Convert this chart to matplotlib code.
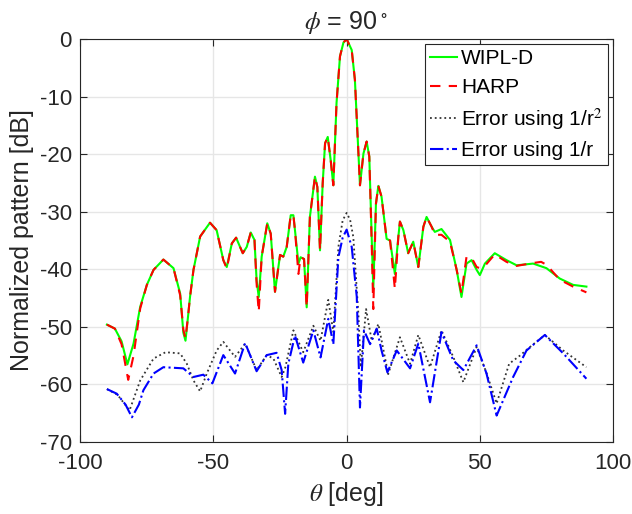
import matplotlib
matplotlib.use('Agg')
from matplotlib import pyplot as plt

plt.rcParams['font.family'] = ['Liberation Sans', 'DejaVu Sans']
plt.rcParams['mathtext.fontset'] = 'stix'
plt.rcParams['axes.unicode_minus'] = False

# WIPL-D reference pattern
theta_wipl = [-90, -87, -84.5, -82.3, -80, -77.5, -75, -72.5, -68.8, -65, -62.5, -61.3,
              -60.5, -59.5, -58.8, -57.5, -55, -51.3, -48.8, -46.3, -45, -43.1, -41.5,
              -39, -37.5, -36, -34.6, -33.8, -33, -31.9, -29.8, -28.5, -26.9, -25, -23.8,
              -22.5, -21, -20, -19.4, -18.1, -17.3, -16, -15, -13.8, -11.9, -11, -10, -9,
              -8.1, -7.1, -6, -5, -3.8, -2.5, -1.2, 0, 1.9, 3.1, 4, 5, 6.3, 7.5, 8.5, 9.4,
              10, 11, 11.9, 13.1, 15, 16.3, 18.1, 19.4, 20, 21.3, 23.1, 25, 26.9, 28.8,
              30, 31.9, 33.1, 35.6, 38.8, 41.3, 43.1, 45, 46.9, 48.8, 50, 51.9, 55.6, 60,
              63.8, 70, 75, 80, 85, 90]
wipl = [-49.6, -50.3, -52.5, -56.5, -52.9, -46.5, -42.7, -40.1, -38.3, -39.8, -44.2, -51.0,
        -52.4, -48, -44.8, -40.1, -34.3, -31.9, -33.2, -38.4, -39.6, -35.5, -34.5,
        -37.2, -36.1, -33.6, -34.9, -41.9, -44.8, -37.8, -32.0, -33.8, -43.9, -37.5, -37.8,
        -36.1, -30.6, -30.6, -33.2, -39.0, -37.9, -38.2, -46.6, -30.9, -23.9, -25.7, -36.7, -25.1,
        -18.1, -17.0, -21.0, -25.4, -11.1, -3.0, -0.6, 0, -1.9, -7.1, -15.8, -25.4, -19.9, -17.8, -20.4, -34.4,
        -43.4, -28.6, -25.5, -27.4, -34.7, -35.0, -40.8, -34.4, -31.7, -33.2, -37.2, -35.2, -39.6, -32.6,
        -30.9, -32.6, -33.5, -33.0, -34.9, -40.1, -44.8, -39.0, -38.4, -40.1, -41.0, -39.0, -37.2, -38.4,
        -39.3, -39.0, -39.8, -41.6, -42.7, -43.0]

# HARP pattern
theta_harp = [-90, -87, -84.5, -82, -80, -77.5, -75, -72.5, -68.8, -65, -62.5, -61.3,
              -60.5, -59.5, -58.8, -57.5, -55, -51.3, -48.8, -46.3, -45, -43.1, -41.5,
              -39, -37.5, -36, -34.6, -33.8, -33, -31.9, -29.8, -28.5, -26.9, -25, -23.8,
              -22.5, -21, -20, -19.4, -18.1, -17.3, -16, -15, -13.8, -11.9, -11, -10, -9,
              -8.1, -7.1, -6, -5, -3.8, -2.5, -1.2, 0, 1.9, 3.1, 4, 5, 6.3, 7.5, 8.5, 9.4,
              10, 11, 11.9, 13.1, 15, 16.3, 18.1, 19.4, 20, 21.3, 23.1, 25, 26.9, 28.8,
              30, 31.9, 33.1, 35.6, 38.8, 41.3, 43.1, 45, 46.9, 48.8, 50, 51.9, 55.6, 60,
              63.8, 70, 73, 75, 80, 85, 90]
harp = [-49.6, -50.3, -53.0, -59.2, -55.0, -46.8, -42.7, -40.1, -38.3, -39.8, -44.5, -50.5,
        -52.0, -48, -44.8, -40.1, -34.3, -31.9, -33.2, -38.4, -39.9, -35.5, -34.5,
        -37.2, -36.1, -33.6, -34.9, -42.5, -47.4, -37.8, -32.0, -33.8, -43.9, -37.5, -37.8,
        -36.1, -30.6, -30.6, -33.2, -40.8, -37.9, -38.2, -46.6, -30.9, -23.9, -25.7, -36.7, -25.1,
        -18.1, -17.0, -21.0, -25.4, -11.1, -3.0, -0.6, 0, -1.9, -7.1, -15.8, -25.4, -19.9, -17.8, -20.4, -35.5,
        -46.9, -28.6, -25.5, -27.4, -34.7, -35.0, -43.4, -34.4, -31.7, -33.2, -37.2, -35.2, -39.6, -32.6,
        -30.9, -32.6, -34.0, -34.0, -35.2, -40.1, -44.2, -37.8, -38.0, -39.6, -39.8, -39.4, -37.4, -38.7,
        -39.4, -38.9, -38.7, -39.2, -41.8, -43.0, -44.0]

# error curves
theta_err2 = [-90, -86, -81.5, -77.5, -72.5, -68, -62.5, -60, -57.5, -55, -52.5, -48.8, -46.3,
              -41.9, -38.1, -33.8, -30, -27.5, -24.4, -23, -20, -16.3, -12.5, -9.8, -6.9, -5,
              -3.1, -1.5, 0, 1.3, 2.5, 4.4, 5.3, 7.3, 9.4, 11.9, 15.6, 20, 23.8, 26.9, 31.3,
              35.6, 40, 43.8, 48.8, 52.5, 56.3, 61, 65, 68.8, 74.4, 81.3, 90]
err2 = [-60.8, -61.8, -64.5, -59.3, -55.5, -54.4, -54.6, -56.4, -59.3, -61.2, -58.1, -54.1, -52.6,
        -55.2, -52.9, -57.5, -54.9, -55.5, -58.7, -57.0, -50.6, -54.4, -49.8, -52.4, -45.3, -50.9,
        -36.1, -31.5, -30.2, -31.4, -34.4, -47.7, -57.0, -46.9, -52.4, -49.5, -58.2, -51.8, -56.4, -51.4, -57.0,
        -50.6, -55.2, -59.6, -53.5, -58.0, -63.3, -56.4, -55.0, -53.5, -51.4, -54.1, -57.0]

theta_err1 = [-90, -86.3, -83, -80.6, -78, -76.3, -72.5, -68.8, -65, -61.3, -57.5, -53.8, -50.4,
              -46.3, -41.9, -38.1, -33.8, -30, -26.3, -24.4, -23.1, -21.9, -19.4, -16.3, -12.5,
              -9.8, -6.9, -5, -3.1, -1.5, 0, 1.9, 3.8, 5, 6.5, 8.8, 11.3, 13.1, 15.3, 18.8,
              23.8, 26.9, 31.3, 35.6, 40, 43.8, 48.8, 52.5, 56.3, 62.5, 67.5, 74.4, 81.3, 90]
err1 = [-60.8, -61.6, -63.5, -65.7, -63.5, -61.0, -58.1, -57.0, -57.1, -57.2, -58.7, -58.3, -59.8,
        -54.9, -58.1, -52.8, -57.7, -54.9, -54.5, -57.5, -65.1, -56.4, -51.5, -56.2, -50.6,
        -55.3, -48.6, -53.0, -37.9, -34.5, -33.1, -36.1, -44.8, -64.0, -50.6, -53.0, -50.3, -54.1, -57.9, -54.1,
        -57.2, -52.9, -63.1, -50.9, -55.8, -57.5, -53.2, -58.1, -65.4, -58.7, -54.1, -51.4, -54.6, -59.0]

fig = plt.figure(figsize=(6.32, 5.14), dpi=100)
ax = fig.add_axes([0.127, 0.140, 0.843, 0.784])

ax.plot(theta_wipl, wipl, color=(0, 1, 0), linewidth=1.5, label='WIPL-D')
ax.plot(theta_harp, harp, 'r--', linewidth=1.5, dashes=(5, 4), label='HARP')
ax.plot(theta_err2, err2, ':', color='#333333', linewidth=1.3, label='Error using 1/r$^2$')
ax.plot(theta_err1, err1, 'b-.', linewidth=1.5, label='Error using 1/r')

ax.set_xlim(-100, 100)
ax.set_ylim(-70, 0)
ax.set_xticks([-100, -50, 0, 50, 100])
ax.set_yticks(range(-70, 1, 10))
ax.grid(True, color='#e6e6e6', linewidth=1)
ax.set_axisbelow(True)
ax.tick_params(direction='in', top=True, right=True, labelsize=16, colors='#262626', length=5)
ax.tick_params(axis='x', pad=8)
ax.tick_params(axis='y', pad=6)
for s in ax.spines.values():
    s.set_color('#262626')

ax.set_xlabel(r'$\theta$ [deg]', fontsize=18, color='#262626', labelpad=4)
ax.set_ylabel('Normalized pattern [dB]', fontsize=18, color='#262626', labelpad=4)
ax.set_title(r'$\phi$ = 90$^{\,\circ}$', fontsize=18, color='#262626', pad=7)

leg = ax.legend(loc='upper right', fontsize=15, fancybox=False, framealpha=1,
                edgecolor='#262626', borderaxespad=0.25, handlelength=1.3,
                handletextpad=0.2, labelspacing=0.45, borderpad=0.25)
leg.get_frame().set_linewidth(0.8)

fig.savefig('out.png', dpi=100)
